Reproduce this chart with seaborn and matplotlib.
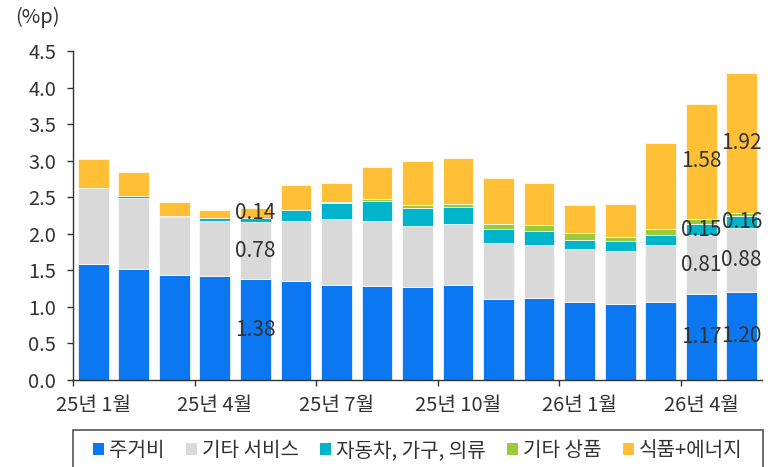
import matplotlib
matplotlib.use("Agg")
import matplotlib.pyplot as plt
import seaborn as sns
import numpy as np
from matplotlib.patches import Rectangle, Patch
from matplotlib.ticker import FixedLocator

# ---------------- data ----------------
categories = ["25년 1월", "25년 2월", "25년 3월", "25년 4월", "25년 5월", "25년 6월",
              "25년 7월", "25년 8월", "25년 9월", "25년 10월", "25년 11월", "25년 12월",
              "26년 1월", "26년 2월", "26년 3월", "26년 4월", "26년 5월"]
series_names = ["주거비", "기타 서비스", "자동차, 가구, 의류", "기타 상품", "식품+에너지"]
housing = [1.59, 1.52, 1.43, 1.42, 1.38, 1.35, 1.30, 1.29, 1.27, 1.30, 1.11, 1.12, 1.07, 1.04, 1.07, 1.17, 1.20]
other_services = [1.03, 0.97, 0.80, 0.76, 0.78, 0.83, 0.90, 0.88, 0.83, 0.83, 0.76, 0.72, 0.72, 0.73, 0.78, 0.81, 0.88]
cars_furniture_apparel = [0.00, 0.02, 0.02, 0.04, 0.05, 0.14, 0.22, 0.28, 0.25, 0.24, 0.20, 0.20, 0.13, 0.13, 0.14, 0.15, 0.16]
other_goods = [-0.01, -0.01, -0.01, 0.00, 0.00, 0.00, 0.01, 0.03, 0.05, 0.04, 0.06, 0.08, 0.09, 0.06, 0.08, 0.07, 0.04]
food_energy = [0.40, 0.33, 0.18, 0.10, 0.14, 0.35, 0.27, 0.44, 0.60, 0.62, 0.63, 0.57, 0.39, 0.45, 1.17, 1.58, 1.92]
tick_labels = ["25년 1월", "25년 4월", "25년 7월", "25년 10월", "26년 1월", "26년 4월"]
# labelled segments: (bar index, series index)
labelled = [(4, 0), (4, 1), (4, 4),
            (15, 0), (15, 1), (15, 2), (15, 4),
            (16, 0), (16, 1), (16, 2), (16, 4)]

colors = ["#0B78F2", "#D9D9D9", "#00B4CC", "#9BCB3C", "#FFC036"]
text_color = "#333333"

sns.set_theme(style="white")
plt.rcParams["font.family"] = ["Noto Sans CJK KR", "DejaVu Sans"]
plt.rcParams["font.weight"] = 300

W, H = 774, 467
fig = plt.figure(figsize=(W / 100, H / 100), dpi=100)
ax = fig.add_axes([73 / W, 1 - 380 / H, (762 - 73) / W, (380 - 51) / H])

all_series = [housing, other_services, cars_furniture_apparel, other_goods, food_energy]
pos_base = np.zeros(len(categories))
neg_base = np.zeros(len(categories))
bottoms = []
for vals in all_series:
    v = np.array(vals, dtype=float)
    b = np.where(v >= 0, pos_base, neg_base)
    bottoms.append(b.copy())
    pos_base = pos_base + np.where(v >= 0, v, 0)
    neg_base = neg_base + np.where(v < 0, v, 0)

for vals, b, c in zip(all_series, bottoms, colors):
    sns.barplot(x=categories, y=vals, bottom=b, color=c, saturation=1,
                width=0.76, errorbar=None, ax=ax, order=categories,
                edgecolor="white", linewidth=0.5, clip_on=False)

for i, s in labelled:
    v = all_series[s][i]
    yc = bottoms[s][i] + v / 2
    ax.text(i, yc, f"{v:.2f}", ha="center", va="center", fontsize=15,
            color=text_color)

ax.set_xlim(-0.5, len(categories) - 0.5)
ax.set_ylim(0, 4.5)
ax.set_yticks(np.arange(0, 4.51, 0.5))
ax.set_yticklabels([f"{t:.1f}" for t in np.arange(0, 4.51, 0.5)])
tick_pos = [categories.index(t) for t in tick_labels]
ax.set_xticks(tick_pos)
ax.set_xticklabels(tick_labels)
ax.xaxis.set_minor_locator(FixedLocator([p - 0.5 for p in tick_pos]))
ax.tick_params(axis="x", which="major", length=0, pad=11, labelsize=14.5,
               colors=text_color)
ax.tick_params(axis="x", which="minor", length=4, width=1, color=text_color,
               direction="out", bottom=True)
ax.tick_params(axis="y", length=4, width=1, pad=8, labelsize=14.5,
               colors=text_color, direction="out", left=True)
ax.set_xlabel("")
ax.set_ylabel("")
for sp in ["top", "right"]:
    ax.spines[sp].set_visible(False)
for sp in ["left", "bottom"]:
    ax.spines[sp].set_color(text_color)
    ax.spines[sp].set_linewidth(1)

fig.text(15 / W, 1 - 17 / H, "(%p)", ha="left", va="center", fontsize=14.5,
         color=text_color)

# legend
handles = [Patch(facecolor=c, edgecolor="none", label=n) for c, n in zip(colors, series_names)]
fig.patches.append(Rectangle((72.7 / W, 1 - 472 / H), (763.3 - 72.7) / W, 42 / H,
                             transform=fig.transFigure, facecolor="white",
                             edgecolor="#555555", linewidth=1.2, clip_on=False))
fig.legend(handles=handles, loc="center left", bbox_to_anchor=(93 / W, 1 - 451 / H),
           ncol=5, frameon=False, fontsize=14.5, handlelength=0.55, handleheight=0.55,
           handletextpad=0.25, columnspacing=1.05, borderaxespad=0, borderpad=0,
           labelcolor=text_color)

fig.savefig("out.png", dpi=100)
